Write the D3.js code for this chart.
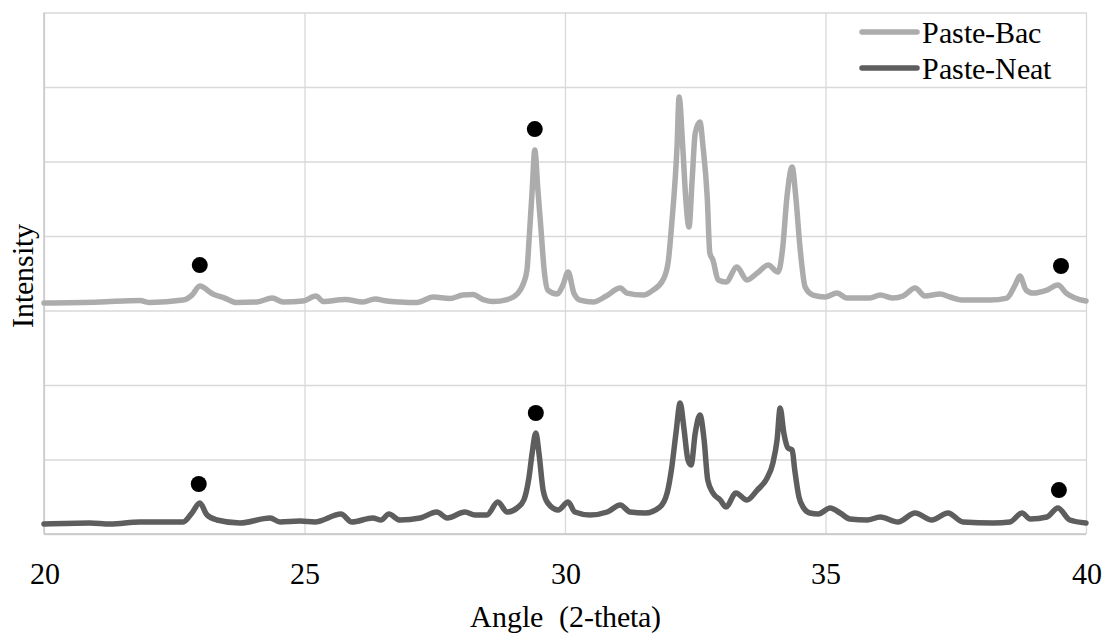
<!DOCTYPE html>
<html lang="en">
<head>
<meta charset="UTF-8"/>
<title>XRD Paste-Bac vs Paste-Neat</title>
<script src="https://d3js.org/d3.v7.min.js"></script>
<style>
  @font-face {
    font-family: "ChartSerif";
    src: local("Liberation Serif"), local("LiberationSerif"), local("LiberationSerif-Regular"),
         local("DejaVu Serif"), local("DejaVuSerif"), local("Tinos"), local("Times New Roman");
  }
  body { margin: 0; background: #fff; }
  svg text { font-family: ChartSerif, "Liberation Serif", "DejaVu Serif", serif; fill: #000; }
  .grid line { stroke: #d9d9d9; stroke-width: 1.3; }
  .grid path { display: none; }
  .series { fill: none; stroke-width: 5.5; stroke-linejoin: round; stroke-linecap: round; }
</style>
</head>
<body>
<script>
// angle (2-theta) and intensity (Bac trace is offset upward)
var bacAngle = [20.00,21.07,21.84,22.03,22.67,22.84,22.99,23.24,23.47,23.70,24.09,24.38,24.59,24.97,25.22,25.36,25.78,26.12,26.35,26.58,26.83,27.16,27.47,27.79,28.04,28.23,28.43,28.62,28.89,29.08,29.19,29.27,29.31,29.37,29.42,29.48,29.54,29.60,29.67,29.85,29.96,30.06,30.17,30.29,30.54,30.79,31.06,31.19,31.50,31.69,31.88,31.98,32.05,32.15,32.19,32.26,32.32,32.38,32.44,32.50,32.59,32.65,32.73,32.78,32.84,32.94,33.09,33.30,33.49,33.69,33.90,34.09,34.18,34.26,34.36,34.43,34.51,34.61,34.76,34.99,35.22,35.41,35.66,35.85,36.05,36.30,36.49,36.72,36.91,37.20,37.39,37.64,38.16,38.48,38.64,38.73,38.85,38.98,39.25,39.46,39.62,39.79,40.00];
var bacValue = [3100,3114,3134,3107,3140,3207,3328,3221,3167,3107,3114,3167,3114,3127,3194,3120,3147,3114,3154,3127,3114,3107,3181,3160,3207,3214,3147,3120,3147,3221,3342,3543,3945,4616,5153,4616,4080,3543,3274,3221,3342,3516,3234,3140,3114,3194,3301,3234,3207,3274,3409,3650,4174,5194,5865,5194,4482,4120,4751,5381,5529,5194,4523,3771,3677,3409,3382,3583,3409,3503,3610,3516,3852,4523,4925,4523,3852,3315,3207,3181,3234,3167,3167,3167,3207,3167,3194,3301,3194,3221,3181,3140,3140,3167,3342,3462,3274,3234,3274,3342,3234,3167,3127];

var neatAngle = [20.00,20.88,21.27,21.84,22.67,22.84,22.99,23.13,23.32,23.76,24.34,24.53,24.91,25.20,25.70,25.91,26.31,26.47,26.62,26.83,27.22,27.54,27.74,28.08,28.27,28.50,28.71,28.89,29.08,29.21,29.31,29.37,29.44,29.50,29.58,29.67,29.87,30.06,30.19,30.48,30.81,31.06,31.25,31.54,31.82,31.96,32.05,32.13,32.21,32.28,32.36,32.42,32.50,32.59,32.67,32.74,32.84,32.98,33.09,33.28,33.49,33.69,33.88,33.99,34.07,34.13,34.20,34.28,34.36,34.41,34.49,34.57,34.70,34.86,35.09,35.28,35.47,35.80,36.05,36.39,36.72,37.04,37.35,37.64,38.22,38.54,38.77,38.93,39.25,39.46,39.69,40.00];
var neatValue = [134,148,134,161,161,282,416,255,188,148,215,161,174,161,268,161,215,188,268,188,215,295,215,295,255,255,429,295,349,456,765,1087,1355,1087,590,416,322,429,295,255,295,389,295,282,362,550,899,1355,1758,1436,993,926,1355,1597,1261,725,550,456,362,550,456,590,752,953,1261,1691,1355,1154,1127,859,497,362,282,268,349,282,201,188,228,161,282,188,282,161,148,161,282,201,228,349,188,148];

// black dot markers above the tagged peaks
var bacDotAngle = [22.99, 29.42, 39.52];
var bacDotValue = [3610, 5435, 3597];
var neatDotAngle = [22.97, 29.44, 39.48];
var neatDotValue = [671, 1624, 590];

var xTicks = [20, 25, 30, 35, 40];
var yTicks = [0, 1000, 2000, 3000, 4000, 5000, 6000, 7000];
var seriesNames = ["Paste-Bac", "Paste-Neat"];
var seriesColors = ["#acacac", "#5e5e5e"];

var W = 1107, H = 636;
var margin = {top: 12.5, right: 21, bottom: 102, left: 44};
var width = W - margin.left - margin.right,
    height = H - margin.top - margin.bottom;
var serif = "ChartSerif, 'Liberation Serif', 'DejaVu Serif', serif";

var x = d3.scaleLinear().domain([20, 40]).range([0, width]);
var y = d3.scaleLinear().domain([0, 7000]).range([height, 0]);

var svg = d3.select("body").append("svg")
    .attr("width", W)
    .attr("height", H)
  .append("g")
    .attr("transform", "translate(" + margin.left + "," + margin.top + ")");

// gridlines
svg.append("g")
    .attr("class", "grid")
    .call(d3.axisLeft(y).tickValues(yTicks).tickSize(-width).tickFormat(""));
svg.append("g")
    .attr("class", "grid")
    .attr("transform", "translate(0," + height + ")")
    .call(d3.axisBottom(x).tickValues(xTicks).tickSize(-height).tickFormat(""));

// axis lines
svg.append("line").attr("x1", 0).attr("x2", 0).attr("y1", 0).attr("y2", height)
    .attr("stroke", "#c4c4c4").attr("stroke-width", 1.3);
svg.append("line").attr("x1", 0).attr("x2", width).attr("y1", height).attr("y2", height)
    .attr("stroke", "#c4c4c4").attr("stroke-width", 1.3);

// x tick labels
var xAxis = svg.append("g")
    .attr("transform", "translate(0," + height + ")")
    .call(d3.axisBottom(x).tickValues(xTicks).tickSize(0).tickPadding(29).tickFormat(d3.format("d")));
xAxis.attr("font-family", null);
xAxis.select(".domain").remove();
xAxis.selectAll("text")
    .style("font-family", serif)
    .style("font-size", "30px")
    .attr("fill", "#000");

// series
var line = d3.line()
    .x(function(d) { return x(d[0]); })
    .y(function(d) { return y(d[1]); })
    .curve(d3.curveMonotoneX);

var bacData = d3.zip(bacAngle, bacValue);
var neatData = d3.zip(neatAngle, neatValue);

svg.append("path").datum(bacData).attr("class", "series")
    .attr("stroke", seriesColors[0]).attr("d", line);
svg.append("path").datum(neatData).attr("class", "series")
    .attr("stroke", seriesColors[1]).attr("d", line);

// dots
var dots = d3.zip(bacDotAngle, bacDotValue).concat(d3.zip(neatDotAngle, neatDotValue));
svg.selectAll(".dot").data(dots).enter().append("circle")
    .attr("class", "dot")
    .attr("cx", function(d) { return x(d[0]); })
    .attr("cy", function(d) { return y(d[1]); })
    .attr("r", 8)
    .attr("fill", "#000");

// axis titles
svg.append("text")
    .attr("x", width / 2)
    .attr("y", height + 93)
    .attr("text-anchor", "middle")
    .style("font-family", serif)
    .style("font-size", "30px")
    .style("white-space", "pre")
    .text("Angle  (2-theta)");

svg.append("text")
    .attr("transform", "translate(" + (-11) + "," + (y(3500) + 3) + ") rotate(-90)")
    .attr("text-anchor", "middle")
    .style("font-family", serif)
    .style("font-size", "30px")
    .text("Intensity");

// legend
var legend = svg.append("g").attr("transform", "translate(" + (862 - margin.left) + "," + (32 - margin.top) + ")");
seriesNames.forEach(function(name, i) {
  var g = legend.append("g").attr("transform", "translate(0," + (i * 36) + ")");
  g.append("line").attr("x1", 0).attr("x2", 55).attr("y1", 0).attr("y2", 0)
      .attr("stroke", seriesColors[i]).attr("stroke-width", 5.5).attr("stroke-linecap", "round");
  g.append("text").attr("x", 60).attr("y", 11)
      .style("font-family", serif)
      .style("font-size", "30px")
      .text(name);
});
</script>
</body>
</html>
